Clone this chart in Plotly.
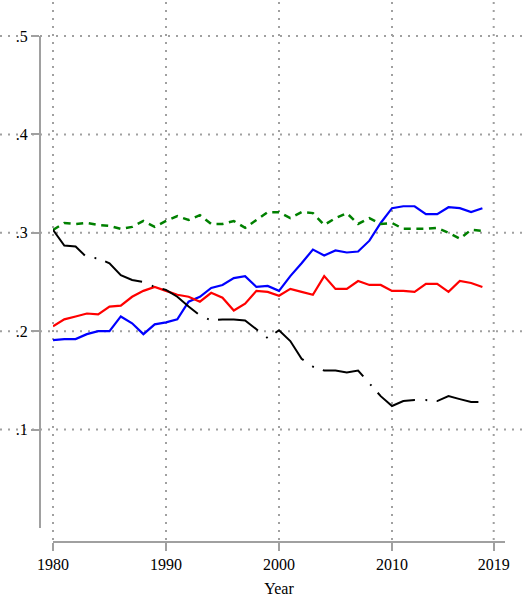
import plotly.graph_objects as go

years = list(range(1980, 2019))

blue = [0.191, 0.192, 0.192, 0.197, 0.200, 0.200, 0.215, 0.208, 0.197, 0.207,
        0.209, 0.212, 0.230, 0.235, 0.244, 0.247, 0.254, 0.256, 0.245, 0.246,
        0.241, 0.256, 0.269, 0.283, 0.277, 0.282, 0.280, 0.281, 0.292, 0.310,
        0.325, 0.327, 0.327, 0.319, 0.319, 0.326, 0.325, 0.321, 0.325]

red = [0.205, 0.212, 0.215, 0.218, 0.217, 0.225, 0.226, 0.235, 0.241, 0.245,
       0.241, 0.237, 0.235, 0.230, 0.239, 0.234, 0.221, 0.228, 0.241, 0.240,
       0.236, 0.243, 0.240, 0.237, 0.256, 0.243, 0.243, 0.251, 0.247, 0.247,
       0.241, 0.241, 0.240, 0.248, 0.248, 0.240, 0.251, 0.249, 0.245]

green = [0.303, 0.310, 0.309, 0.310, 0.308, 0.307, 0.304, 0.306, 0.312, 0.306,
         0.312, 0.317, 0.313, 0.318, 0.309, 0.309, 0.312, 0.305, 0.313, 0.321,
         0.321, 0.315, 0.321, 0.320, 0.308, 0.315, 0.320, 0.309, 0.315, 0.309,
         0.310, 0.304, 0.304, 0.304, 0.305, 0.300, 0.294, 0.303, 0.302]

black = [0.303, 0.287, 0.286, 0.275, 0.274, 0.269, 0.257, 0.252, 0.250, 0.245,
         0.242, 0.235, 0.225, 0.216, 0.211, 0.212, 0.212, 0.211, 0.202, 0.193,
         0.201, 0.190, 0.172, 0.164, 0.160, 0.160, 0.158, 0.160, 0.147, 0.134,
         0.124, 0.129, 0.130, 0.130, 0.129, 0.134, 0.131, 0.128, 0.128]

xtick_vals = [1980, 1990, 2000, 2010, 2019]
ytick_vals = [0.1, 0.2, 0.3, 0.4, 0.5]
ytick_text = [".1", ".2", ".3", ".4", ".5"]

W, H = 523, 599
ML, MR, MT, MB = 40, 18, 36, 57
plot_w = W - ML - MR
plot_h = H - MT - MB
x_dom = [13 / plot_w, 1.0]
y_dom = [14 / plot_h, 1.0]
x_rng = [1980, 2020]
y_rng = [0, 0.5]

def xpaper(v):
    return x_dom[0] + (v - x_rng[0]) / (x_rng[1] - x_rng[0]) * (x_dom[1] - x_dom[0])

def ypaper(v):
    return y_dom[0] + (v - y_rng[0]) / (y_rng[1] - y_rng[0]) * (y_dom[1] - y_dom[0])

grid = "#a0a0a0"
fig = go.Figure()
fig.add_trace(go.Scatter(x=years, y=blue, mode="lines", line=dict(color="#0000ff", width=2.2)))
fig.add_trace(go.Scatter(x=years, y=red, mode="lines", line=dict(color="#ff0000", width=2.2)))
fig.add_trace(go.Scatter(x=years, y=green, mode="lines", line=dict(color="#008000", width=2.5, dash="7px,5.6px")))
fig.add_trace(go.Scatter(x=years, y=black, mode="lines", line=dict(color="#000000", width=2, dash="43.5px,10.5px,1.8px,9.5px")))

shapes = []
for v in ytick_vals:
    shapes.append(dict(type="line", xref="paper", yref="paper",
                       x0=-ML / plot_w, x1=(W - ML) / plot_w, y0=ypaper(v), y1=ypaper(v),
                       line=dict(color=grid, width=2, dash="2px,6px"), layer="below"))
for v in xtick_vals:
    shapes.append(dict(type="line", xref="paper", yref="paper",
                       x0=xpaper(v), x1=xpaper(v), y0=2 / plot_h, y1=(plot_h + MT) / plot_h,
                       line=dict(color=grid, width=2, dash="2px,6px"), layer="below"))

font = "Liberation Serif, Times New Roman, serif"
fig.update_layout(
    width=W, height=H,
    margin=dict(l=ML, r=MR, t=MT, b=MB, autoexpand=False),
    paper_bgcolor="white", plot_bgcolor="white",
    showlegend=False,
    shapes=shapes,
    font=dict(family=font, size=16, color="black"),
    xaxis=dict(domain=x_dom, range=x_rng, anchor="free", position=0, automargin=False,
               tickvals=xtick_vals, showgrid=False, zeroline=False,
               showline=True, linecolor=grid, linewidth=2,
               ticks="outside", ticklen=8, tickwidth=2, tickcolor=grid,
               tickfont=dict(family=font, size=16),
               title=dict(text="Year", font=dict(family=font, size=16), standoff=10)),
    yaxis=dict(domain=y_dom, range=y_rng, anchor="free", position=0, automargin=False,
               tickvals=ytick_vals, ticktext=ytick_text, showgrid=False, zeroline=False,
               showline=True, linecolor=grid, linewidth=2,
               ticks="outside", ticklen=8, tickwidth=2, tickcolor=grid,
               tickfont=dict(family=font, size=16)),
)

fig.write_html("out.html", config={"displayModeBar": False},
               post_script="document.body.style.margin='0';")
